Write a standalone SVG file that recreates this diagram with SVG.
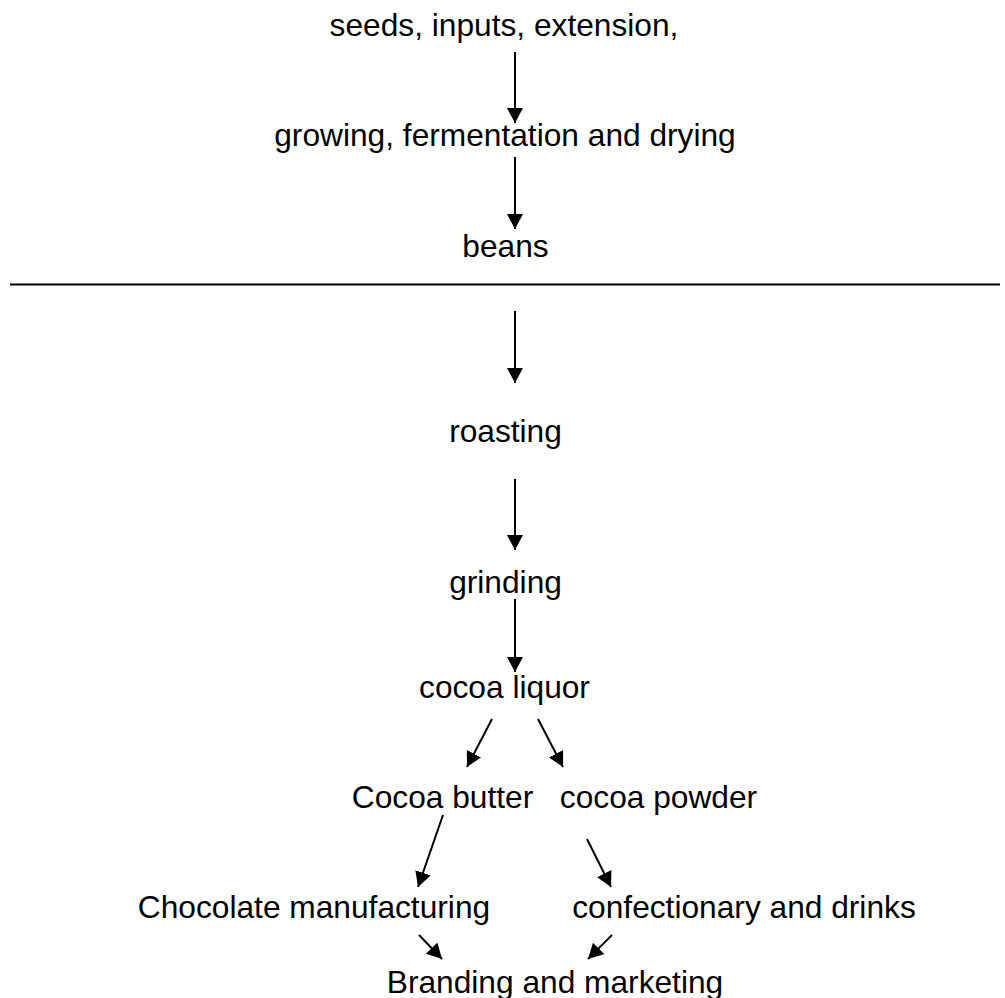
<svg xmlns="http://www.w3.org/2000/svg" width="1005" height="998" viewBox="0 0 1005 998">
  <style>
    .lbl { font-family: "Liberation Sans", Arial, sans-serif; font-size: 31.7px; fill: #000; text-anchor: middle; }
    .conn line { stroke: #000; stroke-width: 2; fill: none; marker-end: url(#head); }
    .rule { stroke: #000; stroke-width: 2; }
  </style>
  <defs>
    <marker id="head" markerUnits="userSpaceOnUse" markerWidth="16" markerHeight="16" refX="15" refY="8" orient="auto">
      <path d="M0,0 L15,8 L0,16 z" fill="#000"/>
    </marker>
  </defs>
  <rect width="1005" height="998" fill="#fff"/>

  <!-- divider between farm stage and processing stage -->
  <line class="rule" x1="10" y1="284.5" x2="1000" y2="284.5"/>

  <g id="node-seeds"><text class="lbl" x="504" y="36">seeds, inputs, extension,</text></g>
  <g id="node-growing"><text class="lbl" x="505" y="146">growing, fermentation and drying</text></g>
  <g id="node-beans"><text class="lbl" x="505.5" y="257">beans</text></g>
  <g id="node-roasting"><text class="lbl" x="505.5" y="442">roasting</text></g>
  <g id="node-grinding"><text class="lbl" x="505.5" y="593">grinding</text></g>
  <g id="node-liquor"><text class="lbl" x="504.5" y="698">cocoa liquor</text></g>
  <g id="node-butter"><text class="lbl" x="442.5" y="808">Cocoa butter</text></g>
  <g id="node-powder"><text class="lbl" x="658.5" y="808">cocoa powder</text></g>
  <g id="node-chocolate"><text class="lbl" x="314" y="918">Chocolate manufacturing</text></g>
  <g id="node-confectionary"><text class="lbl" x="744" y="918">confectionary and drinks</text></g>
  <g id="node-branding"><text class="lbl" x="555" y="993">Branding and marketing</text></g>

  <g id="connectors" class="conn">
    <line x1="515" y1="52" x2="515" y2="123"/>
    <line x1="515" y1="157" x2="515" y2="229"/>
    <line x1="515" y1="311" x2="515" y2="383"/>
    <line x1="515" y1="479" x2="515" y2="550"/>
    <line x1="515" y1="599" x2="515" y2="672"/>
    <line x1="492" y1="719" x2="467" y2="767"/>
    <line x1="538" y1="719" x2="563" y2="767"/>
    <line x1="443" y1="815" x2="418" y2="887"/>
    <line x1="587" y1="839" x2="611" y2="887"/>
    <line x1="419" y1="935" x2="442" y2="959"/>
    <line x1="612" y1="935" x2="588" y2="959"/>
  </g>
</svg>
